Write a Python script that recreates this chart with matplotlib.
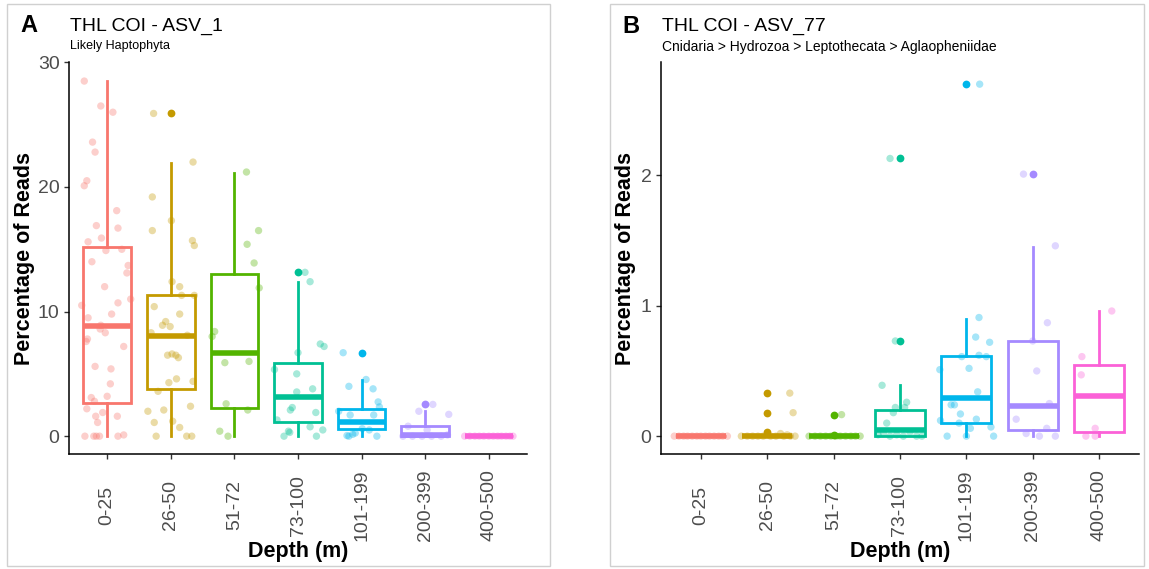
import matplotlib.pyplot as plt
from matplotlib.patches import Rectangle

plt.rcParams['font.family'] = ['Liberation Sans', 'DejaVu Sans']

W, H = 1149, 569

depths = ['0-25', '26-50', '51-72', '73-100', '101-199', '200-399', '400-500']
colors = ['#F8766D', '#C49A00', '#53B400', '#00C094', '#00B6EB', '#A58AFF', '#FB61D7']

# ---- panel A: ASV_1, box statistics
a_q1 = [2.7, 3.75, 2.3, 1.15, 0.6, 0.0, 0.0]
a_med = [8.85, 8.0, 6.7, 3.15, 1.1, 0.13, 0.0]
a_q3 = [15.2, 11.3, 13.0, 5.9, 2.2, 0.78, 0.0]
a_lo = [0.0, 0.0, 0.0, 0.0, 0.05, 0.0, 0.0]
a_hi = [28.5, 21.9, 21.1, 12.4, 4.5, 2.0, 0.0]
a_out = [[], [25.9], [], [13.15], [6.7], [2.55], []]

# jittered samples: (offset from group centre, value)
a_pts = [
    [(-0.36, 28.5), (-0.10, 26.5), (0.09, 26.0), (-0.23, 23.6), (-0.19, 22.8), (-0.32, 20.5),
     (-0.36, 20.1), (0.15, 18.1), (-0.17, 16.9), (0.17, 16.7), (-0.09, 15.9), (-0.30, 15.6),
     (-0.02, 14.9), (0.23, 15.0), (-0.24, 14.0), (0.33, 13.7), (0.31, 13.1), (-0.04, 12.0),
     (0.37, 11.0), (0.17, 10.7), (-0.40, 10.5), (0.07, 9.8), (-0.30, 9.5), (-0.10, 8.9),
     (-0.11, 8.6), (-0.03, 8.3), (-0.31, 7.8), (-0.33, 7.6), (0.26, 7.2), (-0.19, 5.6),
     (0.06, 5.4), (0.05, 4.2), (-0.25, 3.1), (0.0, 3.2), (-0.20, 2.8), (-0.32, 2.2),
     (-0.07, 1.9), (-0.18, 1.6), (0.16, 1.6), (-0.15, 1.1), (-0.35, 0.0), (-0.21, 0.0),
     (-0.17, 0.0), (-0.12, 0.0), (0.17, 0.0), (0.26, 0.1)],
    [(-0.27, 25.9), (0.35, 22.0), (-0.29, 19.2), (0.01, 17.3), (-0.29, 16.5), (0.34, 15.7),
     (0.37, 15.3), (0.02, 12.4), (0.14, 12.0), (0.17, 11.3), (0.37, 11.3), (-0.26, 10.4),
     (0.14, 9.8), (-0.08, 9.2), (-0.13, 8.9), (-0.01, 8.8), (-0.31, 8.3), (0.26, 8.1),
     (-0.05, 6.5), (0.02, 6.6), (0.08, 6.5), (0.12, 6.3), (0.09, 4.6), (-0.03, 4.3),
     (0.35, 4.4), (-0.20, 3.6), (-0.36, 2.0), (-0.11, 2.1), (0.31, 2.4), (-0.26, 1.1),
     (0.03, 1.2), (0.14, 0.7), (-0.23, 0.0), (0.25, 0.0), (0.33, 0.0)],
    [(0.19, 21.2), (0.38, 16.5), (0.20, 15.4), (0.31, 13.9), (0.39, 11.9), (-0.31, 8.4),
     (-0.35, 8.0), (-0.15, 5.9), (0.23, 6.0), (-0.13, 2.6), (0.21, 2.1), (-0.23, 0.4),
     (-0.10, 0.0)],
    [(0.11, 13.15), (0.19, 12.4), (0.35, 7.4), (0.41, 7.2), (0.0, 6.7), (-0.02, 5.0),
     (-0.37, 5.35), (0.23, 3.8), (-0.02, 3.55), (-0.09, 2.3), (-0.12, 2.1), (0.28, 1.9),
     (-0.33, 1.3), (0.19, 0.75), (0.39, 0.5), (-0.15, 0.4), (-0.13, 0.3), (-0.22, 0.0),
     (0.29, 0.0)],
    [(-0.29, 6.7), (0.07, 4.55), (-0.20, 4.0), (0.18, 3.8), (0.26, 2.75), (0.28, 2.35),
     (-0.36, 2.0), (-0.18, 1.7), (0.19, 1.7), (0.01, 0.6), (0.12, 0.5), (-0.10, 0.25),
     (-0.14, 0.15), (-0.23, 0.05), (-0.20, 0.0), (0.24, 0.0)],
    [(0.12, 2.55), (-0.10, 2.0), (0.37, 1.75), (-0.27, 0.8), (0.03, 0.5), (-0.35, 0.0),
     (-0.20, 0.0), (-0.05, 0.0), (0.10, 0.0), (0.25, 0.0), (0.35, 0.1)],
    [(-0.38, 0.0), (-0.30, 0.0), (-0.22, 0.0), (-0.15, 0.0), (-0.08, 0.0), (0.0, 0.0),
     (0.07, 0.0), (0.14, 0.0), (0.20, 0.0), (0.27, 0.0), (0.33, 0.0), (0.38, 0.0)],
]

# ---- panel B: ASV_77
b_q1 = [0.0, 0.0, 0.0, 0.0, 0.10, 0.045, 0.03]
b_med = [0.0, 0.0, 0.0, 0.05, 0.29, 0.23, 0.31]
b_q3 = [0.0, 0.0, 0.0, 0.20, 0.615, 0.73, 0.545]
b_lo = [0.0, 0.0, 0.0, 0.0, 0.0, 0.0, 0.0]
b_hi = [0.0, 0.0, 0.0, 0.39, 0.90, 1.45, 0.96]
b_out = [[], [0.33, 0.18, 0.03], [0.165, 0.01], [2.13, 0.73], [2.70], [2.01], []]

b_pts = [
    [(-0.40, 0.0), (-0.33, 0.0), (-0.26, 0.0), (-0.20, 0.0), (-0.13, 0.0), (-0.06, 0.0),
     (0.0, 0.0), (0.07, 0.0), (0.13, 0.0), (0.20, 0.0), (0.27, 0.0), (0.33, 0.0), (0.40, 0.0)],
    [(0.34, 0.33), (0.39, 0.18), (0.20, 0.02), (0.30, 0.01), (-0.39, 0.0), (-0.30, 0.0),
     (-0.22, 0.0), (-0.14, 0.0), (-0.06, 0.0), (0.05, 0.0), (0.13, 0.0), (0.25, 0.0),
     (0.35, 0.0), (0.42, 0.0)],
    [(0.12, 0.165), (-0.37, 0.0), (-0.28, 0.0), (-0.20, 0.0), (-0.12, 0.0), (-0.04, 0.0),
     (0.04, 0.0), (0.10, 0.0), (0.18, 0.0), (0.26, 0.0), (0.33, 0.0), (0.40, 0.0)],
    [(-0.15, 2.13), (-0.07, 0.73), (-0.27, 0.39), (0.10, 0.26), (-0.07, 0.22), (0.07, 0.22),
     (-0.10, 0.18), (-0.20, 0.10), (-0.33, 0.01), (-0.25, 0.02), (-0.15, 0.0), (-0.05, 0.01),
     (0.05, 0.0), (0.15, 0.03), (0.25, 0.0), (0.33, 0.0)],
    [(0.20, 2.70), (0.19, 0.91), (0.14, 0.76), (0.35, 0.72), (-0.07, 0.61), (0.19, 0.62),
     (0.30, 0.61), (-0.40, 0.51), (0.04, 0.52), (0.17, 0.34), (-0.23, 0.24), (-0.18, 0.24),
     (-0.09, 0.17), (-0.39, 0.12), (-0.11, 0.10), (0.06, 0.06), (0.15, 0.13), (0.37, 0.07),
     (-0.29, 0.0), (0.0, 0.0), (0.41, 0.0)],
    [(-0.14, 2.01), (0.34, 1.46), (0.22, 0.87), (0.0, 0.73), (0.06, 0.50), (0.25, 0.25),
     (-0.25, 0.13), (-0.10, 0.02), (0.10, 0.0), (0.21, 0.06), (0.34, 0.0)],
    [(0.19, 0.96), (-0.26, 0.61), (-0.27, 0.47), (-0.06, 0.06), (-0.20, 0.0), (-0.06, 0.0)],
]


def fx(px):
    return px / W


def fy(py):
    return 1 - py / H


def ax_rect(l, t, r, b):
    return [l / W, 1 - b / H, (r - l) / W, (b - t) / H]


def draw_panel(ax, q1, med, q3, lo, hi, out, pts, ylim, yticks):
    pos = list(range(1, len(depths) + 1))
    stats = []
    for i in range(len(depths)):
        stats.append(dict(q1=q1[i], med=med[i], q3=q3[i], whislo=lo[i], whishi=hi[i],
                          fliers=out[i]))
    bp = ax.bxp(stats, positions=pos, widths=0.75, showcaps=False, patch_artist=True,
                boxprops=dict(linewidth=2.0, facecolor='white'),
                whiskerprops=dict(linewidth=2.0),
                medianprops=dict(linewidth=4.0, solid_capstyle='butt'),
                flierprops=dict(marker='o', markersize=5.6, markeredgecolor='none'))
    for i, c in enumerate(colors):
        bp['boxes'][i].set_edgecolor(c)
        bp['boxes'][i].set_zorder(2)
        bp['medians'][i].set_color(c)
        bp['medians'][i].set_zorder(2.5)
        bp['whiskers'][2 * i].set_color(c)
        bp['whiskers'][2 * i + 1].set_color(c)
        bp['fliers'][i].set_markerfacecolor(c)
        bp['fliers'][i].set_zorder(4)
        xs = [pos[i] + d for d, v in pts[i]]
        ys = [v for d, v in pts[i]]
        ax.scatter(xs, ys, s=28, color=c, alpha=0.35, edgecolors='none', zorder=3)

    ax.set_xlim(0.4, 7.6)
    ax.set_ylim(*ylim)
    ax.set_xticks(pos)
    ax.set_xticklabels(depths)
    ax.set_yticks(yticks)
    ax.set_yticklabels([str(t) for t in yticks])
    for s in ['top', 'right']:
        ax.spines[s].set_visible(False)
    for s in ['left', 'bottom']:
        ax.spines[s].set_linewidth(1.1)
        ax.spines[s].set_color('black')
    ax.tick_params(axis='both', length=3.8, width=1.0, color='#333333',
                   labelcolor='#4D4D4D', labelsize=14)
    ax.tick_params(axis='y', pad=3)
    ax.tick_params(axis='x', labelrotation=90, pad=33)
    for lbl in ax.get_xticklabels():
        lbl.set_va('center')
        lbl.set_ha('center')


fig = plt.figure(figsize=(W / 100, H / 100), dpi=100)

# light frames around the two panels
for l, t, r, b in [(7, 4, 550, 566), (610, 4, 1144, 566)]:
    fig.patches.append(Rectangle((fx(l), fy(b)), (r - l) / W, (b - t) / H,
                                 transform=fig.transFigure, fill=False,
                                 edgecolor='#D0D0D0', linewidth=1.0))

axA = fig.add_axes(ax_rect(69, 62, 527, 454))
draw_panel(axA, a_q1, a_med, a_q3, a_lo, a_hi, a_out, a_pts, (-1.43, 30.03), [0, 10, 20, 30])

axB = fig.add_axes(ax_rect(661, 62, 1139, 454))
draw_panel(axB, b_q1, b_med, b_q3, b_lo, b_hi, b_out, b_pts, (-0.137, 2.87), [0, 1, 2])

# tags, titles and subtitles
fig.text(fx(20), fy(32), 'A', fontsize=17, fontweight='bold', va='baseline')
fig.text(fx(622), fy(33), 'B', fontsize=17, fontweight='bold', va='baseline')
fig.text(fx(70), fy(31), 'THL COI - ASV_1', fontsize=14, va='baseline')
fig.text(fx(662), fy(31), 'THL COI - ASV_77', fontsize=14, va='baseline')
fig.text(fx(70), fy(49), 'Likely Haptophyta', fontsize=9, va='baseline')
fig.text(fx(662), fy(51), 'Cnidaria > Hydrozoa > Leptothecata > Aglaopheniidae',
         fontsize=10, va='baseline')

# axis titles
for x in [25, 625]:
    fig.text(fx(x), fy(258), 'Percentage of Reads', rotation=90, fontsize=15.5,
             fontweight='bold', ha='center', va='center')
for x in [298, 900]:
    fig.text(fx(x), fy(552), 'Depth (m)', fontsize=15.5, fontweight='bold',
             ha='center', va='center')

fig.savefig('out.png', dpi=100)
